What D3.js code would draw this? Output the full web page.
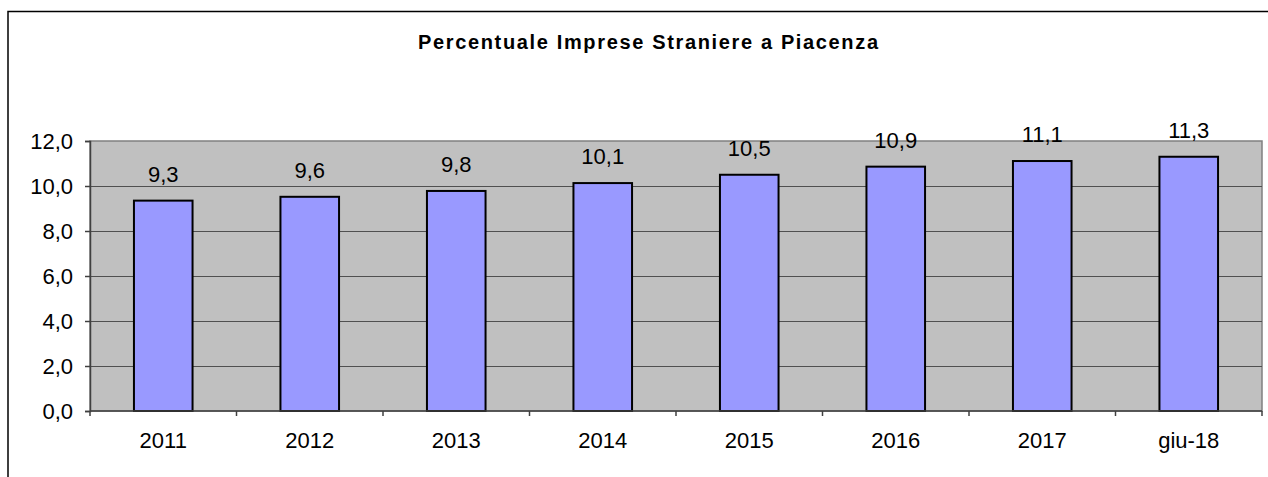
<!DOCTYPE html>
<html>
<head>
<meta charset="utf-8">
<script src="https://cdn.jsdelivr.net/npm/d3@7"></script>
<style>
  body { margin: 0; background: #fff; }
  svg text { font-family: Arial, "Liberation Sans", sans-serif; fill: #000; }
</style>
</head>
<body>
<svg width="1268" height="477"></svg>
<script>
(function() {

var categories = ["2011", "2012", "2013", "2014", "2015", "2016", "2017", "giu-18"];
var values = [9.35, 9.52, 9.78, 10.13, 10.5, 10.86, 11.11, 11.3];
var valueLabels = ["9,3", "9,6", "9,8", "10,1", "10,5", "10,9", "11,1", "11,3"];
var yTicks = [0, 2, 4, 6, 8, 10, 12];
var title = "Percentuale Imprese Straniere a Piacenza";

var svg = d3.select("svg");

var plot = {left: 90, right: 1262, top: 141, bottom: 411};
var fontSize = 22;

var fmt = function(v) { return d3.format(".1f")(v).replace(".", ","); };

// outer chart border (right/bottom edges fall off the picture)
svg.append("rect")
    .attr("x", 8).attr("y", 11.5)
    .attr("width", 1400).attr("height", 600)
    .attr("fill", "#fff")
    .attr("stroke", "#000")
    .attr("stroke-width", 1.5);

svg.append("text")
    .attr("x", 648).attr("y", 49)
    .attr("text-anchor", "middle")
    .attr("font-weight", "bold")
    .style("font-size", "20px")
    .attr("textLength", 460)
    .attr("lengthAdjust", "spacing")
    .text(title);

var x = d3.scaleBand()
    .domain(categories)
    .range([plot.left, plot.right])
    .paddingInner(0.6)
    .paddingOuter(0.3);

var y = d3.scaleLinear()
    .domain([0, 12])
    .range([plot.bottom, plot.top]);

// plot background
svg.append("rect")
    .attr("x", plot.left).attr("y", plot.top)
    .attr("width", plot.right - plot.left)
    .attr("height", plot.bottom - plot.top)
    .attr("fill", "#c0c0c0")
    .attr("stroke", "#808080")
    .attr("stroke-width", 1.5);

// gridlines
svg.append("g")
    .selectAll("line")
    .data(yTicks.filter(function(d) { return d > 0 && d < 12; }))
    .enter()
    .append("line")
    .attr("x1", plot.left).attr("x2", plot.right)
    .attr("y1", function(d) { return Math.round(y(d)) + 0.5; })
    .attr("y2", function(d) { return Math.round(y(d)) + 0.5; })
    .attr("stroke", "#505050")
    .attr("stroke-width", 1);

// bars
svg.append("g")
    .selectAll("rect")
    .data(values)
    .enter()
    .append("rect")
    .attr("x", function(d, i) { return x(categories[i]); })
    .attr("y", function(d) { return y(d); })
    .attr("width", x.bandwidth())
    .attr("height", function(d) { return y(0) - y(d); })
    .attr("fill", "#9999ff")
    .attr("stroke", "#000")
    .attr("stroke-width", 2);

// value labels
svg.append("g")
    .selectAll("text")
    .data(values)
    .enter()
    .append("text")
    .attr("x", function(d, i) { return x(categories[i]) + x.bandwidth() / 2; })
    .attr("y", function(d) { return y(d) - 19; })
    .attr("text-anchor", "middle")
    .style("font-size", fontSize + "px")
    .text(function(d, i) { return valueLabels[i]; });

// y axis
var yAxis = svg.append("g")
    .attr("transform", "translate(" + plot.left + ",0)")
    .call(d3.axisLeft(y).tickValues(yTicks).tickSize(5).tickPadding(12).tickFormat(fmt));
yAxis.select(".domain").attr("stroke", "#404040").attr("stroke-width", 1.5);
yAxis.selectAll(".tick line").attr("stroke", "#404040").attr("stroke-width", 1.5);
yAxis.selectAll("text").style("font-size", fontSize + "px").attr("font-family", null);

// x axis, ticks between categories
var xPos = d3.scalePoint().domain(d3.range(categories.length + 1)).range([plot.left, plot.right]);
var xAxis = svg.append("g")
    .attr("transform", "translate(0," + plot.bottom + ")");
xAxis.append("line")
    .attr("x1", plot.left).attr("x2", plot.right)
    .attr("stroke", "#404040").attr("stroke-width", 1.5);
xAxis.selectAll(".tk")
    .data(d3.range(categories.length + 1))
    .enter()
    .append("line")
    .attr("class", "tk")
    .attr("x1", function(d) { return xPos(d); })
    .attr("x2", function(d) { return xPos(d); })
    .attr("y1", 0).attr("y2", 5)
    .attr("stroke", "#404040").attr("stroke-width", 1.5);
xAxis.selectAll("text")
    .data(categories)
    .enter()
    .append("text")
    .attr("x", function(d) { return x(d) + x.bandwidth() / 2; })
    .attr("y", 37)
    .attr("text-anchor", "middle")
    .style("font-size", fontSize + "px")
    .text(function(d) { return d; });

})();
</script>
</body>
</html>
